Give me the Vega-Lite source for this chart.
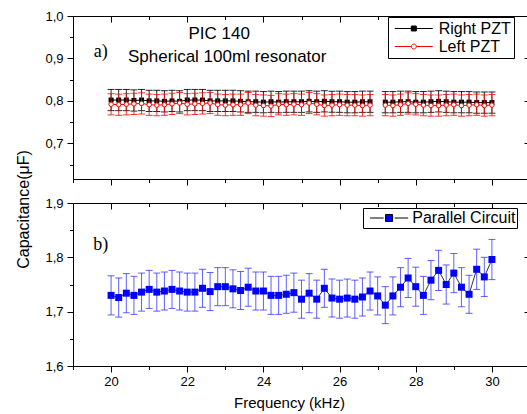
{
  "$schema": "https://vega.github.io/schema/vega-lite/v6.json",
  "padding": {"left": 14, "top": 9, "right": 0, "bottom": 0},
  "bounds": "flush",
  "spacing": 24,
  "background": "white",
  "config": {
    "view": {"stroke": "black", "strokeWidth": 1},
    "axis": {"grid": false, "domain": false, "tickColor": "black", "tickWidth": 1, "labelColor": "black", "titleColor": "black", "labelFont": "Liberation Sans", "titleFont": "Liberation Sans", "labelFontSize": 13, "titleFontSize": 15, "titleFontWeight": "normal"},
    "legend": {"title": null, "orient": "none", "direction": "vertical", "strokeColor": "black", "fillColor": "white", "labelFont": "Liberation Sans", "labelFontSize": 16, "labelColor": "black", "symbolSize": 256, "symbolStrokeWidth": 1, "symbolOpacity": 1, "labelLimit": 300}
  },
  "resolve": {"scale": {"shape": "independent", "stroke": "independent", "fill": "independent"}, "legend": {"shape": "independent", "stroke": "independent", "fill": "independent"}},
  "datasets": {
    "top": [
      {"f": 20.0, "c": 0.802, "e": 0.025, "s": "Right PZT"},
      {"f": 20.2, "c": 0.802, "e": 0.025, "s": "Right PZT"},
      {"f": 20.4, "c": 0.802, "e": 0.025, "s": "Right PZT"},
      {"f": 20.6, "c": 0.801, "e": 0.025, "s": "Right PZT"},
      {"f": 20.8, "c": 0.802, "e": 0.025, "s": "Right PZT"},
      {"f": 21.0, "c": 0.800, "e": 0.025, "s": "Right PZT"},
      {"f": 21.2, "c": 0.800, "e": 0.025, "s": "Right PZT"},
      {"f": 21.4, "c": 0.799, "e": 0.025, "s": "Right PZT"},
      {"f": 21.6, "c": 0.800, "e": 0.025, "s": "Right PZT"},
      {"f": 21.8, "c": 0.799, "e": 0.025, "s": "Right PZT"},
      {"f": 22.0, "c": 0.802, "e": 0.025, "s": "Right PZT"},
      {"f": 22.2, "c": 0.802, "e": 0.025, "s": "Right PZT"},
      {"f": 22.4, "c": 0.802, "e": 0.025, "s": "Right PZT"},
      {"f": 22.6, "c": 0.800, "e": 0.025, "s": "Right PZT"},
      {"f": 22.8, "c": 0.800, "e": 0.025, "s": "Right PZT"},
      {"f": 23.0, "c": 0.800, "e": 0.025, "s": "Right PZT"},
      {"f": 23.2, "c": 0.800, "e": 0.025, "s": "Right PZT"},
      {"f": 23.4, "c": 0.799, "e": 0.025, "s": "Right PZT"},
      {"f": 23.6, "c": 0.798, "e": 0.025, "s": "Right PZT"},
      {"f": 23.8, "c": 0.798, "e": 0.025, "s": "Right PZT"},
      {"f": 24.0, "c": 0.797, "e": 0.025, "s": "Right PZT"},
      {"f": 24.2, "c": 0.798, "e": 0.025, "s": "Right PZT"},
      {"f": 24.4, "c": 0.797, "e": 0.025, "s": "Right PZT"},
      {"f": 24.6, "c": 0.798, "e": 0.025, "s": "Right PZT"},
      {"f": 24.8, "c": 0.798, "e": 0.025, "s": "Right PZT"},
      {"f": 25.0, "c": 0.798, "e": 0.025, "s": "Right PZT"},
      {"f": 25.2, "c": 0.799, "e": 0.025, "s": "Right PZT"},
      {"f": 25.4, "c": 0.798, "e": 0.025, "s": "Right PZT"},
      {"f": 25.6, "c": 0.799, "e": 0.025, "s": "Right PZT"},
      {"f": 25.8, "c": 0.798, "e": 0.025, "s": "Right PZT"},
      {"f": 26.0, "c": 0.798, "e": 0.025, "s": "Right PZT"},
      {"f": 26.2, "c": 0.797, "e": 0.025, "s": "Right PZT"},
      {"f": 26.4, "c": 0.797, "e": 0.025, "s": "Right PZT"},
      {"f": 26.6, "c": 0.798, "e": 0.025, "s": "Right PZT"},
      {"f": 26.8, "c": 0.798, "e": 0.025, "s": "Right PZT"},
      {"f": 27.0, "c": null, "e": null, "s": "Right PZT"},
      {"f": 27.2, "c": 0.797, "e": 0.025, "s": "Right PZT"},
      {"f": 27.4, "c": 0.797, "e": 0.025, "s": "Right PZT"},
      {"f": 27.6, "c": 0.798, "e": 0.025, "s": "Right PZT"},
      {"f": 27.8, "c": 0.798, "e": 0.025, "s": "Right PZT"},
      {"f": 28.0, "c": 0.797, "e": 0.025, "s": "Right PZT"},
      {"f": 28.2, "c": 0.797, "e": 0.025, "s": "Right PZT"},
      {"f": 28.4, "c": 0.798, "e": 0.025, "s": "Right PZT"},
      {"f": 28.6, "c": 0.799, "e": 0.025, "s": "Right PZT"},
      {"f": 28.8, "c": 0.798, "e": 0.025, "s": "Right PZT"},
      {"f": 29.0, "c": 0.797, "e": 0.025, "s": "Right PZT"},
      {"f": 29.2, "c": 0.797, "e": 0.025, "s": "Right PZT"},
      {"f": 29.4, "c": 0.797, "e": 0.025, "s": "Right PZT"},
      {"f": 29.6, "c": 0.796, "e": 0.025, "s": "Right PZT"},
      {"f": 29.8, "c": 0.796, "e": 0.025, "s": "Right PZT"},
      {"f": 30.0, "c": 0.796, "e": 0.025, "s": "Right PZT"},
      {"f": 20.0, "c": 0.792, "e": 0.025, "s": "Left PZT"},
      {"f": 20.2, "c": 0.791, "e": 0.025, "s": "Left PZT"},
      {"f": 20.4, "c": 0.792, "e": 0.025, "s": "Left PZT"},
      {"f": 20.6, "c": 0.793, "e": 0.025, "s": "Left PZT"},
      {"f": 20.8, "c": 0.794, "e": 0.025, "s": "Left PZT"},
      {"f": 21.0, "c": 0.791, "e": 0.025, "s": "Left PZT"},
      {"f": 21.2, "c": 0.790, "e": 0.025, "s": "Left PZT"},
      {"f": 21.4, "c": 0.791, "e": 0.025, "s": "Left PZT"},
      {"f": 21.6, "c": 0.793, "e": 0.025, "s": "Left PZT"},
      {"f": 21.8, "c": 0.795, "e": 0.025, "s": "Left PZT"},
      {"f": 22.0, "c": 0.792, "e": 0.025, "s": "Left PZT"},
      {"f": 22.2, "c": 0.793, "e": 0.025, "s": "Left PZT"},
      {"f": 22.4, "c": 0.794, "e": 0.025, "s": "Left PZT"},
      {"f": 22.6, "c": 0.795, "e": 0.025, "s": "Left PZT"},
      {"f": 22.8, "c": 0.791, "e": 0.025, "s": "Left PZT"},
      {"f": 23.0, "c": 0.790, "e": 0.025, "s": "Left PZT"},
      {"f": 23.2, "c": 0.791, "e": 0.025, "s": "Left PZT"},
      {"f": 23.4, "c": 0.791, "e": 0.025, "s": "Left PZT"},
      {"f": 23.6, "c": 0.795, "e": 0.025, "s": "Left PZT"},
      {"f": 23.8, "c": 0.790, "e": 0.025, "s": "Left PZT"},
      {"f": 24.0, "c": 0.789, "e": 0.025, "s": "Left PZT"},
      {"f": 24.2, "c": 0.788, "e": 0.025, "s": "Left PZT"},
      {"f": 24.4, "c": 0.792, "e": 0.025, "s": "Left PZT"},
      {"f": 24.6, "c": 0.791, "e": 0.025, "s": "Left PZT"},
      {"f": 24.8, "c": 0.792, "e": 0.025, "s": "Left PZT"},
      {"f": 25.0, "c": 0.791, "e": 0.025, "s": "Left PZT"},
      {"f": 25.2, "c": 0.795, "e": 0.025, "s": "Left PZT"},
      {"f": 25.4, "c": 0.792, "e": 0.025, "s": "Left PZT"},
      {"f": 25.6, "c": 0.789, "e": 0.025, "s": "Left PZT"},
      {"f": 25.8, "c": 0.790, "e": 0.025, "s": "Left PZT"},
      {"f": 26.0, "c": 0.791, "e": 0.025, "s": "Left PZT"},
      {"f": 26.2, "c": 0.790, "e": 0.025, "s": "Left PZT"},
      {"f": 26.4, "c": 0.790, "e": 0.025, "s": "Left PZT"},
      {"f": 26.6, "c": 0.789, "e": 0.025, "s": "Left PZT"},
      {"f": 26.8, "c": 0.790, "e": 0.025, "s": "Left PZT"},
      {"f": 27.0, "c": null, "e": null, "s": "Left PZT"},
      {"f": 27.2, "c": 0.790, "e": 0.025, "s": "Left PZT"},
      {"f": 27.4, "c": 0.789, "e": 0.025, "s": "Left PZT"},
      {"f": 27.6, "c": 0.791, "e": 0.025, "s": "Left PZT"},
      {"f": 27.8, "c": 0.794, "e": 0.025, "s": "Left PZT"},
      {"f": 28.0, "c": 0.792, "e": 0.025, "s": "Left PZT"},
      {"f": 28.2, "c": 0.790, "e": 0.025, "s": "Left PZT"},
      {"f": 28.4, "c": 0.789, "e": 0.025, "s": "Left PZT"},
      {"f": 28.6, "c": 0.789, "e": 0.025, "s": "Left PZT"},
      {"f": 28.8, "c": 0.790, "e": 0.025, "s": "Left PZT"},
      {"f": 29.0, "c": 0.791, "e": 0.025, "s": "Left PZT"},
      {"f": 29.2, "c": 0.789, "e": 0.025, "s": "Left PZT"},
      {"f": 29.4, "c": 0.790, "e": 0.025, "s": "Left PZT"},
      {"f": 29.6, "c": 0.791, "e": 0.025, "s": "Left PZT"},
      {"f": 29.8, "c": 0.789, "e": 0.025, "s": "Left PZT"},
      {"f": 30.0, "c": 0.790, "e": 0.025, "s": "Left PZT"}
    ],
    "bottom": [
      {"f": 20.0, "c": 1.730, "e": 0.036, "s": "Parallel Circuit"},
      {"f": 20.2, "c": 1.726, "e": 0.036, "s": "Parallel Circuit"},
      {"f": 20.4, "c": 1.734, "e": 0.036, "s": "Parallel Circuit"},
      {"f": 20.6, "c": 1.730, "e": 0.035, "s": "Parallel Circuit"},
      {"f": 20.8, "c": 1.736, "e": 0.035, "s": "Parallel Circuit"},
      {"f": 21.0, "c": 1.741, "e": 0.035, "s": "Parallel Circuit"},
      {"f": 21.2, "c": 1.736, "e": 0.035, "s": "Parallel Circuit"},
      {"f": 21.4, "c": 1.738, "e": 0.035, "s": "Parallel Circuit"},
      {"f": 21.6, "c": 1.741, "e": 0.035, "s": "Parallel Circuit"},
      {"f": 21.8, "c": 1.738, "e": 0.035, "s": "Parallel Circuit"},
      {"f": 22.0, "c": 1.736, "e": 0.035, "s": "Parallel Circuit"},
      {"f": 22.2, "c": 1.736, "e": 0.035, "s": "Parallel Circuit"},
      {"f": 22.4, "c": 1.743, "e": 0.035, "s": "Parallel Circuit"},
      {"f": 22.6, "c": 1.737, "e": 0.035, "s": "Parallel Circuit"},
      {"f": 22.8, "c": 1.746, "e": 0.035, "s": "Parallel Circuit"},
      {"f": 23.0, "c": 1.746, "e": 0.035, "s": "Parallel Circuit"},
      {"f": 23.2, "c": 1.742, "e": 0.035, "s": "Parallel Circuit"},
      {"f": 23.4, "c": 1.739, "e": 0.035, "s": "Parallel Circuit"},
      {"f": 23.6, "c": 1.745, "e": 0.035, "s": "Parallel Circuit"},
      {"f": 23.8, "c": 1.738, "e": 0.035, "s": "Parallel Circuit"},
      {"f": 24.0, "c": 1.738, "e": 0.035, "s": "Parallel Circuit"},
      {"f": 24.2, "c": 1.730, "e": 0.035, "s": "Parallel Circuit"},
      {"f": 24.4, "c": 1.730, "e": 0.035, "s": "Parallel Circuit"},
      {"f": 24.6, "c": 1.732, "e": 0.035, "s": "Parallel Circuit"},
      {"f": 24.8, "c": 1.735, "e": 0.036, "s": "Parallel Circuit"},
      {"f": 25.0, "c": 1.723, "e": 0.035, "s": "Parallel Circuit"},
      {"f": 25.2, "c": 1.734, "e": 0.036, "s": "Parallel Circuit"},
      {"f": 25.4, "c": 1.723, "e": 0.035, "s": "Parallel Circuit"},
      {"f": 25.6, "c": 1.743, "e": 0.035, "s": "Parallel Circuit"},
      {"f": 25.8, "c": 1.725, "e": 0.035, "s": "Parallel Circuit"},
      {"f": 26.0, "c": 1.723, "e": 0.035, "s": "Parallel Circuit"},
      {"f": 26.2, "c": 1.725, "e": 0.035, "s": "Parallel Circuit"},
      {"f": 26.4, "c": 1.723, "e": 0.035, "s": "Parallel Circuit"},
      {"f": 26.6, "c": 1.727, "e": 0.035, "s": "Parallel Circuit"},
      {"f": 26.8, "c": 1.738, "e": 0.035, "s": "Parallel Circuit"},
      {"f": 27.0, "c": 1.729, "e": 0.035, "s": "Parallel Circuit"},
      {"f": 27.2, "c": 1.712, "e": 0.034, "s": "Parallel Circuit"},
      {"f": 27.4, "c": 1.729, "e": 0.035, "s": "Parallel Circuit"},
      {"f": 27.6, "c": 1.745, "e": 0.036, "s": "Parallel Circuit"},
      {"f": 27.8, "c": 1.762, "e": 0.036, "s": "Parallel Circuit"},
      {"f": 28.0, "c": 1.746, "e": 0.036, "s": "Parallel Circuit"},
      {"f": 28.2, "c": 1.730, "e": 0.035, "s": "Parallel Circuit"},
      {"f": 28.4, "c": 1.758, "e": 0.036, "s": "Parallel Circuit"},
      {"f": 28.6, "c": 1.776, "e": 0.037, "s": "Parallel Circuit"},
      {"f": 28.8, "c": 1.750, "e": 0.036, "s": "Parallel Circuit"},
      {"f": 29.0, "c": 1.771, "e": 0.036, "s": "Parallel Circuit"},
      {"f": 29.2, "c": 1.745, "e": 0.036, "s": "Parallel Circuit"},
      {"f": 29.4, "c": 1.732, "e": 0.035, "s": "Parallel Circuit"},
      {"f": 29.6, "c": 1.778, "e": 0.037, "s": "Parallel Circuit"},
      {"f": 29.8, "c": 1.764, "e": 0.036, "s": "Parallel Circuit"},
      {"f": 30.0, "c": 1.796, "e": 0.037, "s": "Parallel Circuit"}
    ]
  },
  "vconcat": [
    {
      "width": 457,
      "height": 163,
      "data": {"name": "top"},
      "resolve": {"axis": {"x": "independent", "y": "independent"}},
      "layer": [
        {
          "transform": [{"filter": "datum.s == 'Right PZT' && isValid(datum.c)"}],
          "mark": {"type": "errorbar", "color": "black", "opacity": 0.85, "ticks": {"size": 7, "thickness": 1}, "rule": {"strokeWidth": 1}},
          "encoding": {
            "x": {"field": "f", "type": "quantitative", "scale": {"domain": [19, 31], "nice": false, "zero": false}, "axis": null},
            "y": {"field": "c", "type": "quantitative", "scale": {"domain": [0.616, 1.0], "nice": false, "zero": false}, "axis": null},
            "yError": {"field": "e"}
          }
        },
        {
          "transform": [{"filter": "datum.s == 'Right PZT'"}],
          "mark": {"type": "line", "color": "black", "strokeWidth": 1},
          "encoding": {
            "x": {"field": "f", "type": "quantitative", "scale": {"domain": [19, 31], "nice": false, "zero": false},
                  "axis": {"orient": "bottom", "values": [20, 22, 24, 26, 28, 30], "labels": false, "tickSize": 6, "title": null}},
            "y": {"field": "c", "type": "quantitative", "scale": {"domain": [0.616, 1.0], "nice": false, "zero": false},
                  "axis": {"orient": "left", "values": [0.7, 0.8, 0.9, 1.0], "labelExpr": "replace(format(datum.value, '.1f'), '.', ',')", "tickSize": 6, "labelPadding": 4,
                           "title": "Capacitance(μF)", "titleX": -50, "titleY": 193, "titleAngle": -90, "titleAlign": "center", "titleBaseline": "middle", "titleFontSize": 16}}
          }
        },
        {
          "transform": [{"filter": "datum.s == 'Right PZT'"}],
          "mark": {"type": "square", "color": "black", "size": 25, "opacity": 1},
          "encoding": {
            "x": {"field": "f", "type": "quantitative", "scale": {"domain": [19, 31], "nice": false, "zero": false},
                  "axis": {"orient": "top", "values": [20, 22, 24, 26, 28, 30], "labels": false, "tickSize": -6, "title": null}},
            "y": {"field": "c", "type": "quantitative", "scale": {"domain": [0.616, 1.0], "nice": false, "zero": false},
                  "axis": {"orient": "right", "values": [0.7, 0.8, 0.9, 1.0], "labels": false, "tickSize": -6, "title": null}}
          }
        },
        {
          "transform": [{"filter": "datum.s == 'Left PZT' && isValid(datum.c)"}],
          "mark": {"type": "errorbar", "color": "#ff0000", "opacity": 0.8, "ticks": {"size": 7, "thickness": 1}, "rule": {"strokeWidth": 1}},
          "encoding": {
            "x": {"field": "f", "type": "quantitative", "scale": {"domain": [19, 31], "nice": false, "zero": false}, "axis": null},
            "y": {"field": "c", "type": "quantitative", "scale": {"domain": [0.616, 1.0], "nice": false, "zero": false}, "axis": null},
            "yError": {"field": "e"}
          }
        },
        {
          "transform": [{"filter": "datum.s == 'Left PZT'"}],
          "mark": {"type": "line", "color": "#ff0000", "strokeWidth": 1},
          "encoding": {
            "x": {"field": "f", "type": "quantitative", "scale": {"domain": [19, 31], "nice": false, "zero": false},
                  "axis": {"orient": "bottom", "values": [19, 21, 23, 25, 27, 29, 31], "labels": false, "tickSize": 3.5, "title": null}},
            "y": {"field": "c", "type": "quantitative", "scale": {"domain": [0.616, 1.0], "nice": false, "zero": false},
                  "axis": {"orient": "left", "values": [0.65, 0.75, 0.85, 0.95], "labels": false, "tickSize": 3.5, "title": null}}
          }
        },
        {
          "transform": [{"filter": "datum.s == 'Left PZT'"}],
          "mark": {"type": "point", "shape": "circle", "size": 20, "filled": true, "fill": "white", "stroke": "#ff0000", "strokeWidth": 1, "opacity": 1},
          "encoding": {
            "x": {"field": "f", "type": "quantitative", "scale": {"domain": [19, 31], "nice": false, "zero": false},
                  "axis": {"orient": "top", "values": [19, 21, 23, 25, 27, 29, 31], "labels": false, "tickSize": -3.5, "title": null}},
            "y": {"field": "c", "type": "quantitative", "scale": {"domain": [0.616, 1.0], "nice": false, "zero": false},
                  "axis": {"orient": "right", "values": [0.65, 0.75, 0.85, 0.95], "labels": false, "tickSize": -3.5, "title": null}}
          }
        },
        {
          "transform": [{"filter": "false"}],
          "mark": {"type": "point", "filled": true},
          "encoding": {
            "x": {"field": "f", "type": "quantitative", "scale": {"domain": [19, 31], "nice": false, "zero": false}, "axis": null},
            "y": {"field": "c", "type": "quantitative", "scale": {"domain": [0.616, 1.0], "nice": false, "zero": false}, "axis": null},
            "shape": {"field": "s", "type": "nominal",
                      "scale": {"domain": ["Right PZT", "Left PZT"], "range": ["M-0.59,0H4.16M1.48,-0.31H2.1V0.31H1.48Z", "M-0.59,0H1.48M2.1,0H4.16M2.1,0A0.31,0.31 0 1,1 1.48,0A0.31,0.31 0 1,1 2.1,0Z"]},
                      "legend": {"legendX": 315, "legendY": 1, "padding": 3, "rowPadding": 1, "labelOffset": 30.7}},
            "stroke": {"field": "s", "type": "nominal", "scale": {"domain": ["Right PZT", "Left PZT"], "range": ["black", "#ff0000"]},
                       "legend": {"legendX": 315, "legendY": 1, "padding": 3, "rowPadding": 1, "labelOffset": 30.7}},
            "fill": {"field": "s", "type": "nominal", "scale": {"domain": ["Right PZT", "Left PZT"], "range": ["black", "white"]},
                     "legend": {"legendX": 315, "legendY": 1, "padding": 3, "rowPadding": 1, "labelOffset": 30.7}}
          }
        },
        {
          "data": {"values": [{}]},
          "mark": {"type": "text", "font": "Liberation Sans", "fontSize": 17, "align": "center", "baseline": "middle", "color": "black"},
          "encoding": {
            "x": {"datum": 22.84, "type": "quantitative", "scale": {"domain": [19, 31], "nice": false, "zero": false}, "axis": null},
            "y": {"datum": 0.957, "type": "quantitative", "scale": {"domain": [0.616, 1.0], "nice": false, "zero": false}, "axis": null},
            "text": {"value": "PIC 140"}
          }
        },
        {
          "data": {"values": [{}]},
          "mark": {"type": "text", "font": "Liberation Sans", "fontSize": 17, "align": "center", "baseline": "middle", "color": "black"},
          "encoding": {
            "x": {"datum": 23.05, "type": "quantitative", "scale": {"domain": [19, 31], "nice": false, "zero": false}, "axis": null},
            "y": {"datum": 0.904, "type": "quantitative", "scale": {"domain": [0.616, 1.0], "nice": false, "zero": false}, "axis": null},
            "text": {"value": "Spherical 100ml resonator"}
          }
        },
        {
          "data": {"values": [{}]},
          "mark": {"type": "text", "font": "Liberation Serif", "fontSize": 18, "align": "center", "baseline": "middle", "color": "black"},
          "encoding": {
            "x": {"datum": 19.73, "type": "quantitative", "scale": {"domain": [19, 31], "nice": false, "zero": false}, "axis": null},
            "y": {"datum": 0.916, "type": "quantitative", "scale": {"domain": [0.616, 1.0], "nice": false, "zero": false}, "axis": null},
            "text": {"value": "a)"}
          }
        }
      ]
    },
    {
      "width": 457,
      "height": 163,
      "data": {"name": "bottom"},
      "resolve": {"axis": {"x": "independent", "y": "independent"}},
      "layer": [
        {
          "mark": {"type": "errorbar", "color": "#2a2aff", "opacity": 0.75, "ticks": {"size": 7, "thickness": 1}, "rule": {"strokeWidth": 1}},
          "encoding": {
            "x": {"field": "f", "type": "quantitative", "scale": {"domain": [19, 31], "nice": false, "zero": false}, "axis": null},
            "y": {"field": "c", "type": "quantitative", "scale": {"domain": [1.6, 1.9], "nice": false, "zero": false}, "axis": null},
            "yError": {"field": "e"}
          }
        },
        {
          "mark": {"type": "line", "color": "black", "strokeWidth": 0.8},
          "encoding": {
            "x": {"field": "f", "type": "quantitative", "scale": {"domain": [19, 31], "nice": false, "zero": false},
                  "axis": {"orient": "bottom", "values": [20, 22, 24, 26, 28, 30], "labels": true, "tickSize": 6, "labelPadding": 3,
                           "title": "Frequency (kHz)", "titleX": 216, "titleY": 36, "titleAlign": "center", "titleBaseline": "middle", "titleFontSize": 15}},
            "y": {"field": "c", "type": "quantitative", "scale": {"domain": [1.6, 1.9], "nice": false, "zero": false},
                  "axis": {"orient": "left", "values": [1.6, 1.7, 1.8, 1.9], "labelExpr": "replace(format(datum.value, '.1f'), '.', ',')", "tickSize": 6, "labelPadding": 4, "title": null}}
          }
        },
        {
          "mark": {"type": "square", "color": "#0000ff", "size": 49, "opacity": 1},
          "encoding": {
            "x": {"field": "f", "type": "quantitative", "scale": {"domain": [19, 31], "nice": false, "zero": false},
                  "axis": {"orient": "bottom", "values": [19, 21, 23, 25, 27, 29, 31], "labels": false, "tickSize": 3.5, "title": null}},
            "y": {"field": "c", "type": "quantitative", "scale": {"domain": [1.6, 1.9], "nice": false, "zero": false},
                  "axis": {"orient": "left", "values": [1.65, 1.75, 1.85], "labels": false, "tickSize": 3.5, "title": null}}
          }
        },
        {
          "transform": [{"filter": "false"}],
          "mark": {"type": "point", "opacity": 0},
          "encoding": {
            "x": {"field": "f", "type": "quantitative", "scale": {"domain": [19, 31], "nice": false, "zero": false},
                  "axis": {"orient": "top", "values": [19, 21, 23, 25, 27, 29, 31], "labels": false, "tickSize": -3.5, "title": null}},
            "y": {"field": "c", "type": "quantitative", "scale": {"domain": [1.6, 1.9], "nice": false, "zero": false},
                  "axis": {"orient": "right", "values": [1.65, 1.75, 1.85], "labels": false, "tickSize": -3.5, "title": null}}
          }
        },
        {
          "transform": [{"filter": "false"}],
          "mark": {"type": "point", "filled": true},
          "encoding": {
            "x": {"field": "f", "type": "quantitative", "scale": {"domain": [19, 31], "nice": false, "zero": false},
                  "axis": {"orient": "top", "values": [20, 22, 24, 26, 28, 30], "labels": false, "tickSize": -6, "title": null}},
            "y": {"field": "c", "type": "quantitative", "scale": {"domain": [1.6, 1.9], "nice": false, "zero": false},
                  "axis": {"orient": "right", "values": [1.6, 1.7, 1.8, 1.9], "labels": false, "tickSize": -6, "title": null}},
            "shape": {"field": "s", "type": "nominal",
                      "scale": {"domain": ["Parallel Circuit"], "range": ["M-0.36,0H1.33M2.7,0H4.39M1.57,-0.44H2.45V0.44H1.57Z"]},
                      "legend": {"legendX": 290, "legendY": 5, "padding": 1.5, "labelOffset": 30.8}},
            "stroke": {"field": "s", "type": "nominal", "scale": {"domain": ["Parallel Circuit"], "range": ["black"]},
                       "legend": {"legendX": 290, "legendY": 5, "padding": 1.5, "labelOffset": 30.8}},
            "fill": {"field": "s", "type": "nominal", "scale": {"domain": ["Parallel Circuit"], "range": ["#0000ff"]},
                     "legend": {"legendX": 290, "legendY": 5, "padding": 1.5, "labelOffset": 30.8}}
          }
        },
        {
          "data": {"values": [{}]},
          "mark": {"type": "text", "font": "Liberation Serif", "fontSize": 18, "align": "center", "baseline": "middle", "color": "black"},
          "encoding": {
            "x": {"datum": 19.73, "type": "quantitative", "scale": {"domain": [19, 31], "nice": false, "zero": false}, "axis": null},
            "y": {"datum": 1.822, "type": "quantitative", "scale": {"domain": [1.6, 1.9], "nice": false, "zero": false}, "axis": null},
            "text": {"value": "b)"}
          }
        }
      ]
    }
  ]
}
